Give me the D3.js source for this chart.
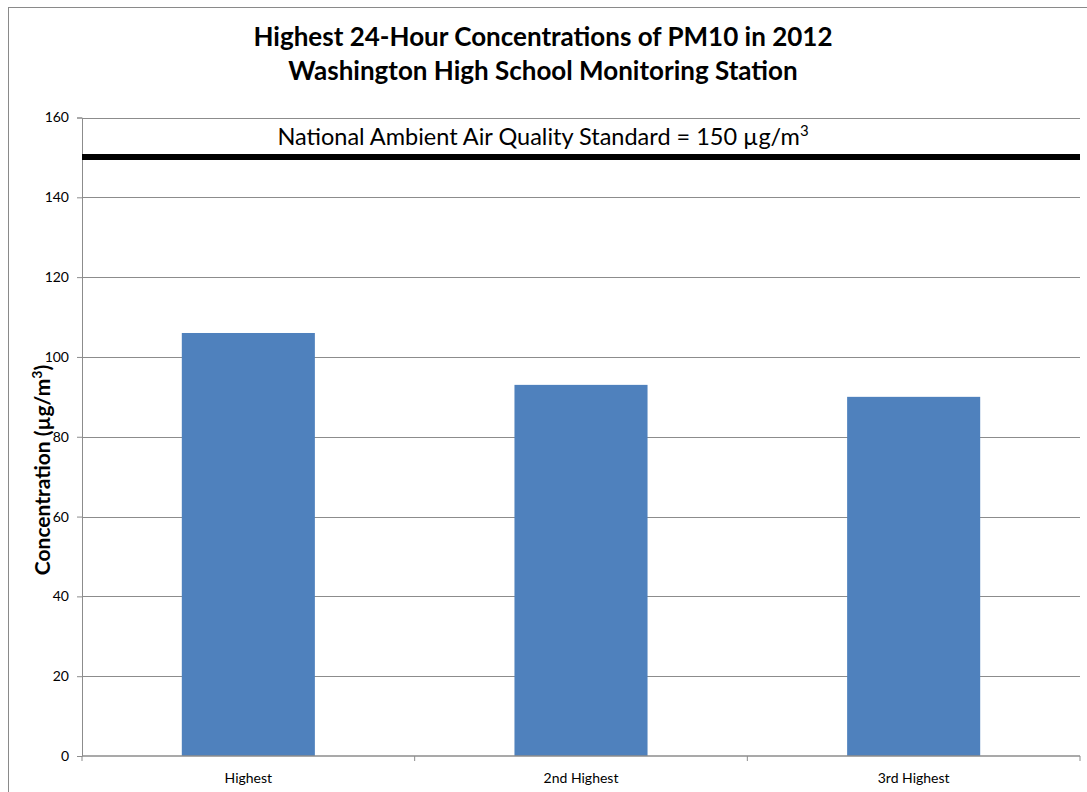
<!DOCTYPE html>
<html>
<head>
<meta charset="utf-8">
<script src="https://cdn.jsdelivr.net/npm/d3@7"></script>
<style>
  body { margin: 0; background: #fff; }
  svg { display: block; font-family: Lato, "Open Sans", sans-serif; }
</style>
</head>
<body>
<div id="vis"></div>
<script>
var categories = ['Highest', '2nd Highest', '3rd Highest'];
var values = [106, 93, 90];
var yTicks = [0, 20, 40, 60, 80, 100, 120, 140, 160];
var standard = 150;

var width = 1087;
var height = 792;
var margin = { left: 82, right: 7, top: 117.5, bottom: 36 };

var svg = d3.select('#vis').append('svg')
  .attr('width', width)
  .attr('height', height);

// outer chart frame (runs off the right/bottom edge)
svg.append('rect')
  .attr('x', 8.5).attr('y', 7.5)
  .attr('width', 1200).attr('height', 900)
  .attr('fill', 'none')
  .attr('stroke', '#8a8a8a')
  .attr('stroke-width', 1);

var x = d3.scaleBand()
  .domain(categories)
  .range([margin.left, width - margin.right])
  .paddingInner(0.6)
  .paddingOuter(0.3);

var y = d3.scaleLinear()
  .domain([0, 160])
  .range([height - margin.bottom, margin.top]);

// gridlines
svg.append('g')
  .selectAll('line')
  .data(yTicks.filter(function (d) { return d > 0; }))
  .enter().append('line')
  .attr('x1', margin.left)
  .attr('x2', width - margin.right)
  .attr('y1', function (d) { return Math.round(y(d)) + 0.5; })
  .attr('y2', function (d) { return Math.round(y(d)) + 0.5; })
  .attr('stroke', '#8c8c8c')
  .attr('stroke-width', 1);

// bars
svg.append('g')
  .selectAll('rect')
  .data(values)
  .enter().append('rect')
  .attr('x', function (d, i) { return x(categories[i]); })
  .attr('y', function (d) { return y(d); })
  .attr('width', x.bandwidth())
  .attr('height', function (d) { return y(0) - y(d); })
  .attr('fill', '#4f81bd');

// y axis
var yAxis = svg.append('g')
  .attr('transform', 'translate(' + margin.left + ',0)')
  .call(d3.axisLeft(y).tickValues(yTicks).tickSize(5).tickPadding(8));
yAxis.selectAll('path, line').attr('stroke', '#8c8c8c');
yAxis.selectAll('text')
  .attr('font-size', 14)
  .attr('fill', '#000')
  .style('font-family', 'Lato, "Open Sans", sans-serif');

// x axis: ticks between categories
var xAxisG = svg.append('g')
  .attr('transform', 'translate(0,' + y(0) + ')');
xAxisG.append('line')
  .attr('x1', margin.left).attr('x2', width - margin.right)
  .attr('y1', 0).attr('y2', 0)
  .attr('stroke', '#8c8c8c').attr('stroke-width', 1.5);
xAxisG.selectAll('.tk')
  .data(d3.range(categories.length + 1))
  .enter().append('line')
  .attr('class', 'tk')
  .attr('x1', function (i) { return margin.left + i * x.step(); })
  .attr('x2', function (i) { return margin.left + i * x.step(); })
  .attr('y1', 0).attr('y2', 5)
  .attr('stroke', '#8c8c8c');
xAxisG.selectAll('.lbl')
  .data(categories)
  .enter().append('text')
  .attr('class', 'lbl')
  .attr('x', function (d) { return x(d) + x.bandwidth() / 2; })
  .attr('y', 27)
  .attr('text-anchor', 'middle')
  .attr('font-size', 14)
  .text(function (d) { return d; });

// standard line
svg.append('line')
  .attr('x1', margin.left)
  .attr('x2', width - margin.right)
  .attr('y1', y(standard) - 0.5)
  .attr('y2', y(standard) - 0.5)
  .attr('stroke', '#000')
  .attr('stroke-width', 6);

var ann = svg.append('text')
  .attr('x', 543)
  .attr('y', 145)
  .attr('text-anchor', 'middle')
  .attr('font-size', 23.5);
ann.append('tspan').text('National Ambient Air Quality Standard = 150 µg/m');
ann.append('tspan').attr('font-size', 15).attr('dy', -9).text('3');

// title
var title = svg.append('text')
  .attr('text-anchor', 'middle')
  .attr('font-size', 26)
  .attr('font-weight', 'bold');
title.append('tspan').attr('x', 543).attr('y', 46).text('Highest 24-Hour Concentrations of PM10 in 2012');
title.append('tspan').attr('x', 543).attr('y', 80).text('Washington High School Monitoring Station');

// y label
var yl = svg.append('text')
  .attr('transform', 'translate(50,470) rotate(-90)')
  .attr('text-anchor', 'middle')
  .attr('font-size', 21)
  .attr('font-weight', 'bold');
yl.append('tspan').text('Concentration (µg/m');
yl.append('tspan').attr('font-size', 14).attr('dy', -8).text('3');
yl.append('tspan').attr('dy', 8).text(')');
</script>
</body>
</html>
